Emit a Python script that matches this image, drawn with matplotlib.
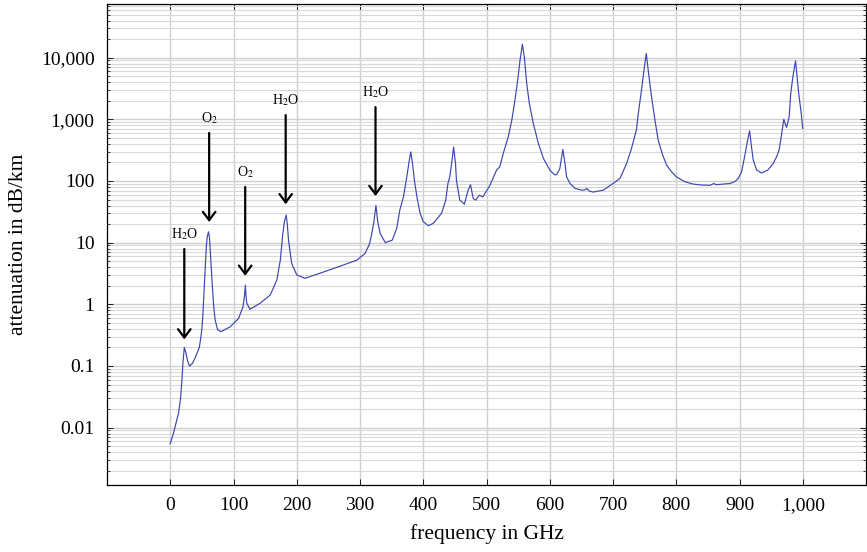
import numpy as np
import matplotlib
matplotlib.use("Agg")
import matplotlib.pyplot as plt
from matplotlib.ticker import FixedLocator, FixedFormatter, LogLocator, NullFormatter

plt.rcParams["font.family"] = ["Liberation Serif", "DejaVu Serif"]
plt.rcParams["mathtext.fontset"] = "stix"

# atmospheric attenuation
freq_ghz = [
    0, 5, 9, 13, 16, 18.5, 20, 22.2, 25, 28, 30.5, 35, 39, 46, 48.5, 50, 51.5, 52.6, 54,
    55.3, 57, 58.5, 60.5, 62, 63.5, 65, 66.8, 69, 71, 74.7, 80, 94.5, 108, 115, 117.5,
    118.75, 120, 121, 126, 142, 158, 168.6, 174, 178, 180.5, 183.3, 185, 187, 192, 200,
    213, 258, 295, 308, 315, 318.6, 322, 325.2, 328, 332, 340, 351, 358, 363, 368.7,
    374, 378, 380.2, 383, 386, 390, 395, 400, 408, 416, 424, 429, 435.6, 439, 442,
    445.6, 448, 451, 452.5, 457.7, 465, 471, 474.7, 479, 483, 488.7, 494, 505, 516, 521,
    526.6, 534.5, 540, 545, 549.4, 553, 556.7, 559.8, 563.6, 567.7, 574, 582, 590, 600,
    608, 611, 616, 620.7, 624, 626.6, 632, 640, 650.5, 656, 658.4, 662, 668.6, 684.6,
    700, 711, 721.6, 729, 737, 740, 745, 749, 752.6, 756.3, 761, 766.3, 771.5, 778.5,
    784.7, 792.6, 800, 813.7, 827, 840, 853, 859.5, 863, 885, 893, 898, 903.3, 908,
    912.8, 916, 919, 921.7, 927, 935, 945, 953, 958.5, 962.6, 966, 970, 973, 974.5,
    978.5, 981, 984.4, 988.6, 991, 993.6, 997, 1000,
]
atten_db_km = [
    0.0055, 0.0081, 0.0118, 0.017, 0.028, 0.059, 0.11, 0.20, 0.16, 0.115, 0.10, 0.11,
    0.133, 0.20, 0.3, 0.4, 0.65, 1.1, 2.2, 4.3, 8.5, 12.5, 15, 12, 6.5, 3.3, 1.8, 0.85,
    0.56, 0.39, 0.36, 0.43, 0.59, 0.91, 1.4, 2.05, 1.3, 1.04, 0.83, 1.04, 1.41, 2.5, 5.2,
    14, 22, 28, 20, 11, 4.6, 3.0, 2.64, 3.8, 5.2, 6.7, 9.5, 14, 22, 40, 22, 14, 10, 11,
    17, 34, 55, 117, 219, 297, 193, 103, 55, 30, 22, 18.8, 20.6, 26, 30, 49, 91, 117,
    219, 355, 193, 102, 49, 42, 71, 87, 52, 49, 59, 55, 83, 151, 170, 282, 525, 970,
    2050, 4350, 9100, 16500, 10300, 3800, 1820, 855, 407, 232, 151, 125, 128, 160, 325,
    193, 117, 91, 76, 71, 72, 76, 69, 66, 71, 91, 110, 193, 330, 676, 1250, 2950, 6300,
    11700, 5500, 2290, 970, 457, 263, 182, 141, 117, 97, 89, 86, 85, 91, 87, 91, 98,
    110, 141, 245, 457, 650, 355, 219, 151, 135, 151, 190, 245, 316, 525, 1000, 800,
    740, 1100, 2630, 4900, 8900, 4900, 2630, 1410, 710,
]

x_ticks = [0, 100, 200, 300, 400, 500, 600, 700, 800, 900, 1000]
x_tick_labels = ["0", "100", "200", "300", "400", "500", "600", "700", "800", "900", "1,000"]
y_ticks = [0.01, 0.1, 1, 10, 100, 1000, 10000]
y_tick_labels = ["0.01", "0.1", "1", "10", "100", "1,000", "10,000"]

# absorption lines: (frequency, arrow tail, arrow head, label)
lines = [
    (22.2, 7.9, 0.27, r"H$_2$O"),
    (61.5, 600, 21.6, r"O$_2$"),
    (118.5, 80, 2.9, r"O$_2$"),
    (182.5, 1170, 42, r"H$_2$O"),
    (324.5, 1580, 57, r"H$_2$O"),
]

W, H = 867, 552
fig = plt.figure(figsize=(W / 100, H / 100), dpi=100)
ax = fig.add_axes([107 / W, 1 - 485 / H, (866 - 107) / W, (485 - 4) / H])

ax.plot(freq_ghz, atten_db_km, color="#3c46b0", lw=0.85, zorder=3)

ax.set_yscale("log")
ax.set_xlim(-100, 1100)
ax.set_ylim(10 ** -2.93, 10 ** 4.87)

ax.xaxis.set_major_locator(FixedLocator(x_ticks))
ax.xaxis.set_major_formatter(FixedFormatter(x_tick_labels))
ax.yaxis.set_major_locator(FixedLocator(y_ticks))
ax.yaxis.set_major_formatter(FixedFormatter(y_tick_labels))
ax.yaxis.set_minor_locator(LogLocator(base=10, subs=np.arange(2, 10), numticks=20))
ax.yaxis.set_minor_formatter(NullFormatter())

ax.grid(True, which="major", color="#cfcfcf", lw=1.0, zorder=0)
ax.grid(True, which="minor", axis="y", color="#d9d9d9", lw=0.8, zorder=0)
ax.set_axisbelow(True)

ax.tick_params(which="both", direction="in", top=True, right=True, labelsize=14, pad=9)
ax.tick_params(which="major", length=4, width=0.6)
ax.tick_params(which="minor", length=2.5, width=0.5)
for s in ax.spines.values():
    s.set_linewidth(0.9)

ax.set_xlabel("frequency in GHz", fontsize=15.5, labelpad=7)
ax.set_ylabel("attenuation in dB/km", fontsize=15.5, labelpad=9)

for f, tail, head, label in lines:
    ax.annotate("", xy=(f, head), xytext=(f, tail),
                arrowprops=dict(arrowstyle="->,head_length=0.4,head_width=0.3",
                                color="black", lw=1.6, shrinkA=0, shrinkB=0,
                                mutation_scale=15), zorder=4)
    ax.annotate(label, xy=(f, tail), xytext=(0, 5), textcoords="offset points",
                ha="center", va="bottom", fontsize=10, zorder=4)

fig.savefig("out.png", dpi=100)
